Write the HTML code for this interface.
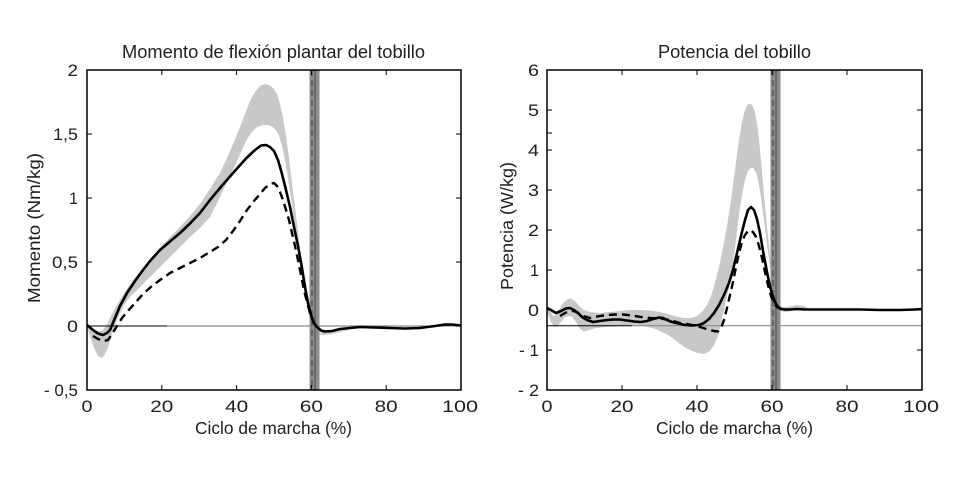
<!DOCTYPE html>
<html>
<head>
<meta charset="utf-8">
<style>
html,body{margin:0;padding:0;background:#fff;}
svg{display:block;}
text{font-family:"Liberation Sans",Arial,sans-serif;fill:#1e1e1e;}
.tk{font-size:16.5px;}
.lb{font-size:17.5px;}
.tt{font-size:18px;}
</style>
</head>
<body>
<svg width="961" height="481" viewBox="0 0 961 481" xmlns="http://www.w3.org/2000/svg">
<rect width="961" height="481" fill="#fff"/>

<!-- ================= LEFT PLOT ================= -->
<polygon fill="#c8c8c8" points="87,325 92,328 97,331 102,331 106,326 110,318 114,310 120,300 127,289 134,279 142,269 150,260 160,248 170,237 180,227 190,216 200,204 210,189 220,173 227,158 234,142 240,127 245,114 250,101 255,92 260,86 265,84 269,85 273,88 277,94 280,104 283,118 286,136 289,158 292,183 295,207 298,232 301,256 304,280 307,302 310,317 313,326 316,331 320,333 325,331 335,330 345,328.5 350,328 350,329.5 340,332 330,334.5 322,335 316,333 312,326 309,315 306,300 303,284 300,265 297,244 294,220 291,198 288,178 285,160 282,146 279,136 276,130 272,126.5 268,125 263,125 257,127 252,132 247,139 242,150 237,161 233,170 226,184 220,197 210,217 200,228 190,237 180,247 170,257 160,267 150,277 140,287 130,297 124,305 120,313 116,322 113,331 110,341 107,350 104,356 101,358 98,356 95,350 92,342 89,333 87,327"/>
<line x1="87" y1="326" x2="167" y2="326" stroke="#000" stroke-width="1"/>
<line x1="167" y1="326" x2="461" y2="326" stroke="#8a8a8a" stroke-width="1.2"/>
<rect x="309.5" y="70" width="10" height="320" fill="#8c8c8c"/>
<line x1="315" y1="70" x2="315" y2="390" stroke="#5e5e5e" stroke-width="1.5"/>
<line x1="312" y1="70" x2="312" y2="390" stroke="#3a3a3a" stroke-width="1" stroke-dasharray="6,4"/>
<polyline fill="none" stroke="#000" stroke-width="2.4" stroke-dasharray="8,5" stroke-linejoin="round" points="93,336 98,339 104,341 108,340 112,334 117,326 122,318 127,312 135,303 143,294 152,286 160,280 170,273 180,268 190,263 200,258 210,252 218,247 226,240 233,231 240,221 247,210 254,201 260,194 265,188 270,184 274,183 277,186 280,192 283,200 286,210 289,220 292,233 295,246 298,260 301,275 304,290 307,302 310,313 313,321 316,326"/>
<polyline fill="none" stroke="#000" stroke-width="2.6" stroke-linejoin="round" points="87,325 93,330 98,333.5 103,335 107,333 110,330 115,318 120,306 127,293 135,281 143,270 150,261 160,250 170,241.5 180,233 190,223.5 200,213 210,200 220,188 233,173 246,158.5 255,150 261,145.5 266,145 270,147 274,151 278,160 282,174 286,190 290,207 294,227 298,246 302,268 305,287 308,303 311,315 314,323 317,327 321,330.5 325,331.5 332,331 340,329 350,328 360,327 375,327.5 390,328 405,328.5 420,328 435,326 445,324.5 452,324.5 461,325.5"/>
<rect x="87" y="70" width="374" height="320" fill="none" stroke="#000" stroke-width="1.5"/>
<g stroke="#000" stroke-width="1">
<line x1="161.8" y1="390" x2="161.8" y2="385"/><line x1="236.6" y1="390" x2="236.6" y2="385"/><line x1="311.4" y1="390" x2="311.4" y2="385"/><line x1="386.2" y1="390" x2="386.2" y2="385"/>
<line x1="161.8" y1="70" x2="161.8" y2="75"/><line x1="236.6" y1="70" x2="236.6" y2="75"/><line x1="311.4" y1="70" x2="311.4" y2="75"/><line x1="386.2" y1="70" x2="386.2" y2="75"/>
<line x1="87" y1="134" x2="92" y2="134"/><line x1="87" y1="198" x2="92" y2="198"/><line x1="87" y1="262" x2="92" y2="262"/><line x1="87" y1="326" x2="92" y2="326"/>
<line x1="461" y1="134" x2="456" y2="134"/><line x1="461" y1="198" x2="456" y2="198"/><line x1="461" y1="262" x2="456" y2="262"/><line x1="461" y1="326" x2="456" y2="326"/>
</g>
<g class="tk" text-anchor="end">
<text x="78" y="76" textLength="10.5" lengthAdjust="spacingAndGlyphs">2</text>
<text x="78" y="140" textLength="25" lengthAdjust="spacingAndGlyphs">1,5</text>
<text x="78" y="204" textLength="9" lengthAdjust="spacingAndGlyphs">1</text>
<text x="78" y="268" textLength="26" lengthAdjust="spacingAndGlyphs">0,5</text>
<text x="78" y="332" textLength="11" lengthAdjust="spacingAndGlyphs">0</text>
<text x="78" y="396" textLength="34" lengthAdjust="spacingAndGlyphs">- 0,5</text>
</g>
<g class="tk" text-anchor="middle">
<text x="87" y="412" textLength="11" lengthAdjust="spacingAndGlyphs">0</text>
<text x="161.8" y="412" textLength="23" lengthAdjust="spacingAndGlyphs">20</text>
<text x="236.6" y="412" textLength="23" lengthAdjust="spacingAndGlyphs">40</text>
<text x="311.4" y="412" textLength="23" lengthAdjust="spacingAndGlyphs">60</text>
<text x="386.2" y="412" textLength="23" lengthAdjust="spacingAndGlyphs">80</text>
<text x="460" y="412" textLength="36" lengthAdjust="spacingAndGlyphs">100</text>
</g>
<text class="tt" x="273.5" y="58" text-anchor="middle" textLength="303" lengthAdjust="spacingAndGlyphs">Momento de flexión plantar del tobillo</text>
<text class="lb" x="273.5" y="434" text-anchor="middle" textLength="157" lengthAdjust="spacingAndGlyphs">Ciclo de marcha (%)</text>
<text class="lb" x="0" y="0" text-anchor="middle" transform="translate(40,228) rotate(-90)" textLength="150" lengthAdjust="spacingAndGlyphs">Momento (Nm/kg)</text>

<!-- ================= RIGHT PLOT ================= -->
<polygon fill="#c8c8c8" points="547,306 550,310 553,316 556,315 560,308 564,302 568,299 571,298.5 575,301 579,306 584,310 590,312 600,313 610,312 620,311 630,310 640,310 650,310.5 660,312 668,314 676,316.5 684,318 691,318 697,316 702,312 707,305 711,296 715,283 719,267 723,248 727,226 731,200 735,170 739,140 742,122 745,110 748,104 750,103.5 752,105 755,112 758,130 761,160 764,195 767,227 770,255 773,278 776,295 779,304 782,307 786,307 792,306 798,305 804,306 808,308 808,309 800,310 792,311 785,312 781,311 777,304 774,291 771,273 768,252 765,228 762,205 759,185 756,172 753,168 751,168 748,171 745,180 742,195 739,214 736,240 733,263 730,283 727,296 724,310 721,323 718,336 714,345 710,351 704,354 698,353 692,351 686,348 680,344 674,339 668,335 660,331 652,328 644,326 636,325 626,325.5 616,326.5 606,327 596,328 589,330 584,331.5 580,329 576,322 572,317 568,316 564,318 560,323 557,326.5 554,327 551,322 548,314 547,311"/>
<line x1="547" y1="325.7" x2="632" y2="325.7" stroke="#000" stroke-width="1"/>
<line x1="632" y1="325.7" x2="922" y2="325.7" stroke="#8a8a8a" stroke-width="1.2"/>
<rect x="770.5" y="70" width="10" height="320" fill="#8c8c8c"/>
<line x1="776" y1="70" x2="776" y2="390" stroke="#5e5e5e" stroke-width="1.5"/>
<line x1="773" y1="70" x2="773" y2="390" stroke="#3a3a3a" stroke-width="1" stroke-dasharray="6,4"/>
<polyline fill="none" stroke="#000" stroke-width="2.4" stroke-dasharray="8,5" stroke-linejoin="round" points="560,316 565,313 570,311 574,311 578,313 583,316 590,318 600,316 607,315 615,314.5 623,314.5 632,315.5 641,317 650,318 660,318.5 670,320 680,323 690,324.5 700,327 708,329.5 714,331 718,331.5 721,328 724,320 727,308 730,295 733,282 736,267 739,253 742,242 745,235 748,231 750,230 753,232 756,237 759,246 762,258 765,272 768,285 771,296 774,303 777,307 780,309"/>
<polyline fill="none" stroke="#000" stroke-width="2.6" stroke-linejoin="round" points="547,308 551,310 556,313 561,311 566,308.5 570,308 574,310 578,313 582,317 587,320 593,322 600,321 607,320 614,319.5 620,319.5 627,320.5 634,321.5 641,322 647,321 653,319 659,317.5 663,318 667,320 672,322 678,323.5 685,325 692,325.5 699,325 704,323 709,319 714,313 719,305 724,295 729,283 733,270 737,253 741,236 745,220 748,210 751,207 754,210 757,219 760,233 763,251 766,267 769,282 772,294 775,302 778,307 781,309 785,309.5 790,309.5 797,309 805,309.5 820,309.5 840,309.5 860,309.5 880,310 900,310 915,309.5 922,309"/>
<rect x="547" y="70" width="375" height="320" fill="none" stroke="#000" stroke-width="1.5"/>
<g stroke="#000" stroke-width="1">
<line x1="622" y1="390" x2="622" y2="385"/><line x1="697" y1="390" x2="697" y2="385"/><line x1="772" y1="390" x2="772" y2="385"/><line x1="847" y1="390" x2="847" y2="385"/>
<line x1="622" y1="70" x2="622" y2="75"/><line x1="697" y1="70" x2="697" y2="75"/><line x1="772" y1="70" x2="772" y2="75"/><line x1="847" y1="70" x2="847" y2="75"/>
<line x1="547" y1="110" x2="552" y2="110"/><line x1="547" y1="133" x2="552" y2="133"/><line x1="547" y1="150" x2="552" y2="150"/><line x1="547" y1="190" x2="552" y2="190"/><line x1="547" y1="230" x2="552" y2="230"/><line x1="547" y1="270" x2="552" y2="270"/><line x1="547" y1="310" x2="552" y2="310"/><line x1="547" y1="350" x2="552" y2="350"/>
<line x1="922" y1="110" x2="917" y2="110"/><line x1="922" y1="150" x2="917" y2="150"/><line x1="922" y1="190" x2="917" y2="190"/><line x1="922" y1="230" x2="917" y2="230"/><line x1="922" y1="270" x2="917" y2="270"/><line x1="922" y1="310" x2="917" y2="310"/><line x1="922" y1="350" x2="917" y2="350"/>
</g>
<g class="tk" text-anchor="end">
<text x="539" y="76" textLength="11" lengthAdjust="spacingAndGlyphs">6</text>
<text x="539" y="116" textLength="11" lengthAdjust="spacingAndGlyphs">5</text>
<text x="539" y="156" textLength="11" lengthAdjust="spacingAndGlyphs">4</text>
<text x="539" y="196" textLength="11" lengthAdjust="spacingAndGlyphs">3</text>
<text x="539" y="236" textLength="11" lengthAdjust="spacingAndGlyphs">2</text>
<text x="539" y="276" textLength="9" lengthAdjust="spacingAndGlyphs">1</text>
<text x="539" y="316" textLength="11" lengthAdjust="spacingAndGlyphs">0</text>
<text x="539" y="356" textLength="20" lengthAdjust="spacingAndGlyphs">- 1</text>
<text x="539" y="396" textLength="21" lengthAdjust="spacingAndGlyphs">- 2</text>
</g>
<g class="tk" text-anchor="middle">
<text x="547" y="412" textLength="11" lengthAdjust="spacingAndGlyphs">0</text>
<text x="622" y="412" textLength="23" lengthAdjust="spacingAndGlyphs">20</text>
<text x="697" y="412" textLength="23" lengthAdjust="spacingAndGlyphs">40</text>
<text x="772" y="412" textLength="23" lengthAdjust="spacingAndGlyphs">60</text>
<text x="847" y="412" textLength="23" lengthAdjust="spacingAndGlyphs">80</text>
<text x="921" y="412" textLength="36" lengthAdjust="spacingAndGlyphs">100</text>
</g>
<text class="tt" x="734.5" y="58" text-anchor="middle" textLength="153" lengthAdjust="spacingAndGlyphs">Potencia del tobillo</text>
<text class="lb" x="734.5" y="434" text-anchor="middle" textLength="157" lengthAdjust="spacingAndGlyphs">Ciclo de marcha (%)</text>
<text class="lb" x="0" y="0" text-anchor="middle" transform="translate(513,226) rotate(-90)" textLength="128" lengthAdjust="spacingAndGlyphs">Potencia (W/kg)</text>
</svg>
</body>
</html>
